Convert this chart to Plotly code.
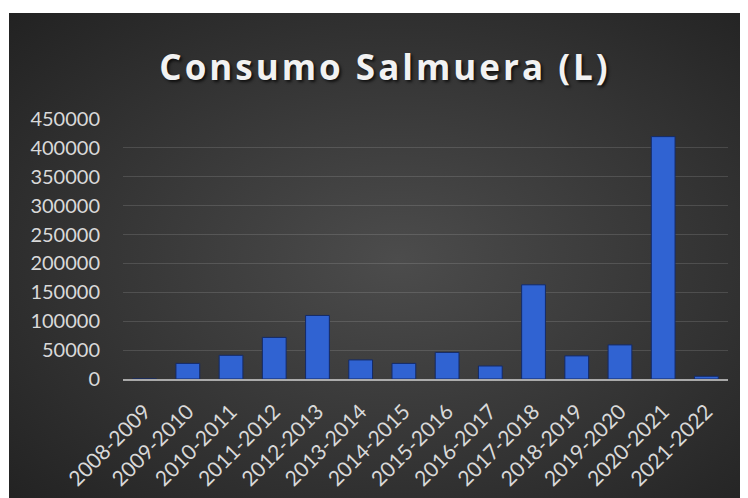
import base64
import plotly.graph_objects as go

categories = ["2008-2009", "2009-2010", "2010-2011", "2011-2012", "2012-2013",
              "2013-2014", "2014-2015", "2015-2016", "2016-2017", "2017-2018",
              "2018-2019", "2019-2020", "2020-2021", "2021-2022"]
consumo = [0, 27000, 41000, 72000, 110000, 33000, 27000, 46000, 22500,
           163000, 40000, 59000, 419500, 4700]
y_ticks = [0, 50000, 100000, 150000, 200000, 250000, 300000, 350000, 400000, 450000]

# the page body adds an 8px offset; coordinates below are in figure pixels
W, H = 748, 498
L, T = 115, 111
plot_right, plot_bottom = 720, 371
R, B = W - plot_right, H - plot_bottom
pw, ph = plot_right - L, plot_bottom - T

svg = """<svg xmlns='http://www.w3.org/2000/svg' width='747' height='493' viewBox='0 0 747 493' preserveAspectRatio='none'>
<defs><radialGradient id='g' cx='52%' cy='50%' r='72%'>
<stop offset='0%' stop-color='#4c4c4c'/><stop offset='100%' stop-color='#222222'/>
</radialGradient></defs>
<rect x='0' y='0' width='747' height='493' fill='url(#g)'/></svg>"""
src = "data:image/svg+xml;base64," + base64.b64encode(svg.encode()).decode()


def px2x(px):
    return (px - L) / pw


def py2y(py):
    return (plot_bottom - py) / ph


fig = go.Figure()
fig.add_trace(go.Bar(
    x=categories, y=consumo,
    marker=dict(color="#3063d2", line=dict(color="#142a66", width=1)),
))

fig.update_layout(
    width=W, height=H,
    margin=dict(l=L, r=R, t=T, b=B),
    paper_bgcolor="white",
    plot_bgcolor="rgba(0,0,0,0)",
    bargap=0.45,
    showlegend=False,
    images=[dict(source=src, xref="paper", yref="paper",
                 x=px2x(1), y=py2y(5), sizex=px2x(748) - px2x(1),
                 sizey=py2y(5) - py2y(498), xanchor="left", yanchor="top",
                 sizing="stretch", layer="below")],
    title=dict(text="<b>Consumo Salmuera (L)</b>", x=377 / W, xref="container",
               y=1 - 60 / H, yref="container", xanchor="center", yanchor="middle",
               font=dict(family="Open Sans", size=35, color="#f2f2f2",
                         shadow="2px 2px 3px rgba(0,0,0,0.7)")),
    font=dict(family="Lato", size=20, color="#d9d9d9"),
)
fig.update_yaxes(range=[0, 450000], tickvals=y_ticks, ticktext=[str(v) for v in y_ticks],
                 showgrid=True, gridcolor="rgba(255,255,255,0.13)", gridwidth=1,
                 zeroline=False, showline=False, ticks="", ticklabelstandoff=22,
                 tickfont=dict(family="Lato", size=20, color="#d9d9d9"))
fig.update_xaxes(showline=True, linecolor="rgba(210,210,210,0.75)", linewidth=2,
                 showgrid=False, ticks="", tickangle=-45, ticklabelstandoff=10,
                 tickfont=dict(family="Lato", size=21, color="#d9d9d9"))

fig.write_html("out.html", post_script=(
    "document.querySelectorAll('.gtitle').forEach(function(e){"
    "e.style.letterSpacing='3px';});"))
